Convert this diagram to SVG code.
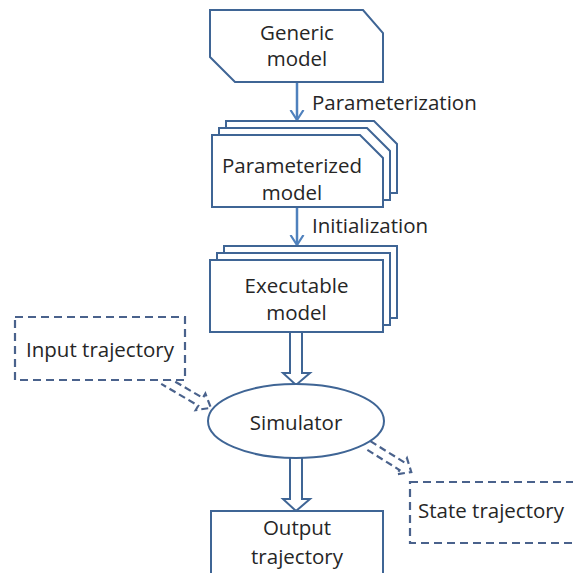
<svg xmlns="http://www.w3.org/2000/svg" width="573" height="573" viewBox="0 0 573 573">
<defs>
<style>
.box{fill:#fff;stroke:#3F6595;stroke-width:2}
.dash{fill:#fff;stroke:#4A628C;stroke-width:2.2;stroke-dasharray:8 5}
.dashline{fill:none;stroke:#4A628C;stroke-width:2.2;stroke-dasharray:7 4}
.blk{fill:#fff;stroke:#3F6595;stroke-width:2;stroke-linejoin:miter}
.thin{stroke:#4F81BD;stroke-width:2.5;fill:none}
text{font-family:"Open Sans","Liberation Sans",sans-serif;font-size:20.5px;fill:#262626}
.c{text-anchor:middle}
</style>
<marker id="ah" markerUnits="userSpaceOnUse" markerWidth="20" markerHeight="20" viewBox="-10 -12 20 20" refX="0" refY="0" orient="auto">
<path d="M-10,-6.5 L0,0 L-10,6.5" fill="none" stroke="#4F81BD" stroke-width="2.2"/>
</marker>
</defs>
<rect width="573" height="573" fill="#fff"/>
<g id="connectors">
<line class="thin" x1="297" y1="82" x2="297" y2="120" marker-end="url(#ah)"/>
<line class="thin" x1="297" y1="207" x2="297" y2="245" marker-end="url(#ah)"/>
<polygon class="blk" points="290,332 302,332 302,373 310,373 296,385 283,373 290,373"/>
<polygon class="blk" points="290,457 302,457 302,499 310,499 296,511 283,499 290,499"/>
<polyline class="dashline" transform="translate(163.5,380) rotate(30.5)" points="0,-4.5 43,-4.5 43,-9.5 55,0 43,9.5 43,4.5 0,4.5"/>
<polyline class="dashline" transform="translate(368,445) rotate(32)" points="0,-4.5 40,-4.5 40,-9.5 51,0 40,9.5 40,4.5 0,4.5"/>
</g>
<g id="generic">
<polygon class="box" points="210,10 363,10 383,33 383,82 235,82 210,57"/>
<text class="c" x="297" y="40">Generic</text>
<text class="c" x="297" y="66">model</text>
</g>
<g id="parameterized">
<polygon class="box" transform="translate(14,-14)" points="212,135 360,135 383,158 383,207 212,207"/>
<polygon class="box" transform="translate(7,-7)" points="212,135 360,135 383,158 383,207 212,207"/>
<polygon class="box" points="212,135 360,135 383,158 383,207 212,207"/>
<text class="c" x="292" y="173">Parameterized</text>
<text class="c" x="292" y="200">model</text>
</g>
<g id="executable">
<rect class="box" x="224" y="246" width="173" height="72"/>
<rect class="box" x="217" y="253" width="173" height="72"/>
<rect class="box" x="210" y="260" width="173" height="72"/>
<text class="c" x="296.5" y="293">Executable</text>
<text class="c" x="296.5" y="320">model</text>
</g>
<g id="labels">
<text x="312" y="110">Parameterization</text>
<text x="312" y="233">Initialization</text>
</g>
<g id="input">
<rect class="dash" x="15" y="317" width="170" height="63"/>
<text class="c" x="100" y="357">Input trajectory</text>
</g>
<g id="simulator">
<ellipse class="box" cx="296" cy="421" rx="88" ry="37"/>
<text class="c" x="296" y="430">Simulator</text>
</g>
<g id="state">
<rect class="dash" x="410" y="482" width="200" height="61"/>
<text x="418" y="518">State trajectory</text>
</g>
<g id="output">
<rect class="box" x="211" y="511" width="172" height="75"/>
<text class="c" x="297" y="535">Output</text>
<text class="c" x="297" y="564">trajectory</text>
</g>
</svg>
